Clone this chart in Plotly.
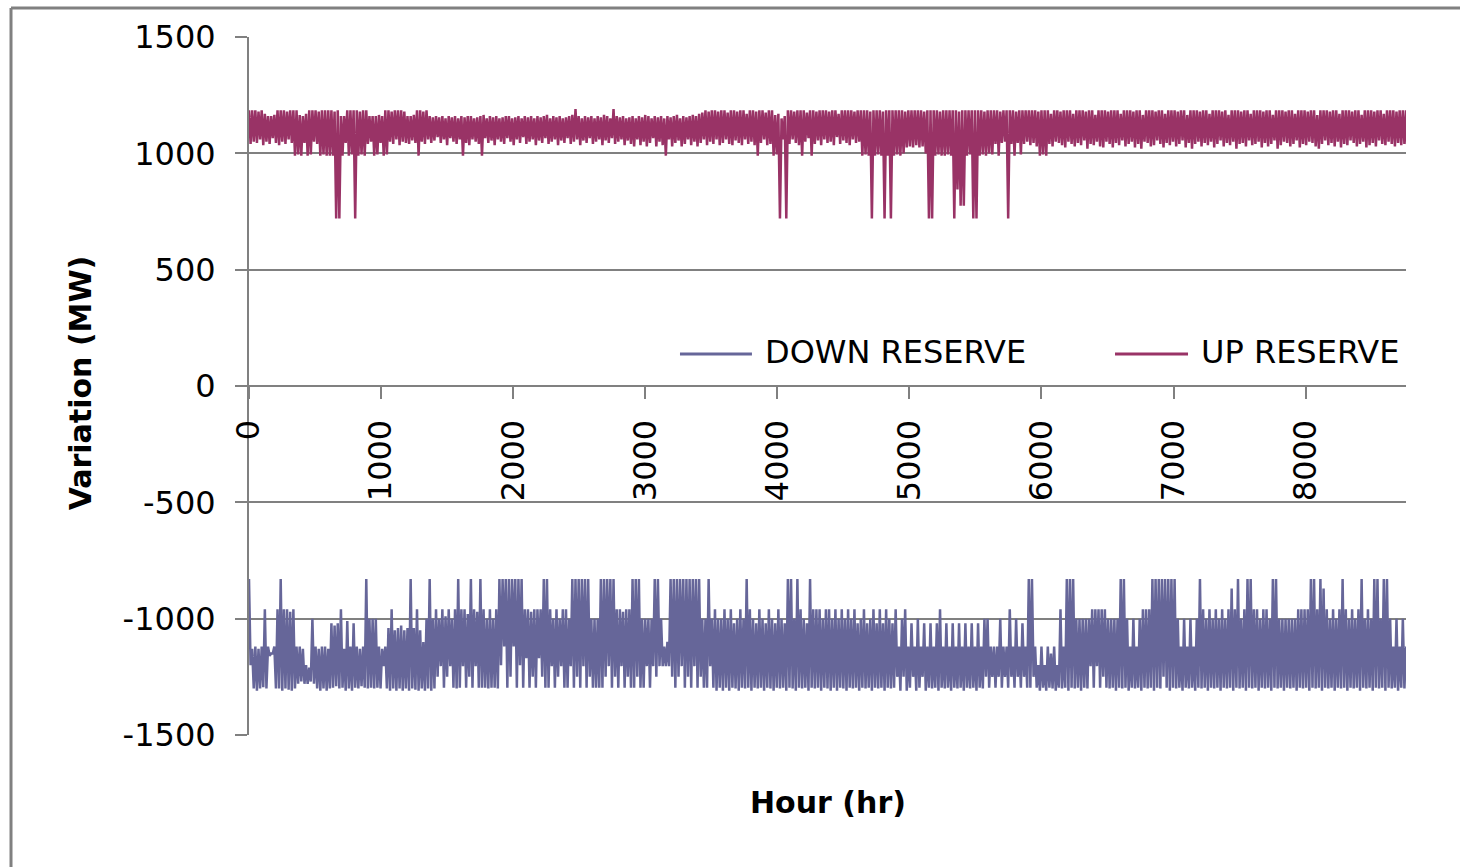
import plotly.graph_objects as go

# Day starts on the hourly axis (0 .. 8760 hr)
hours = list(range(0, 8761, 24))

# Up reserve (MW): daily high and daily low readings
up_high = [
    1185, 1185, 1185, 1180, 1185, 1170, 1160, 1160, 1165, 1185,
    1185, 1185, 1180, 1185, 1185, 1185, 1165, 1160, 1170, 1185,
    1185, 1185, 1180, 1185, 1185, 1185, 1185, 1180, 1185, 1160,
    1160, 1185, 1185, 1185, 1185, 1180, 1185, 1185, 1160, 1160,
    1160, 1165, 1160, 1185, 1185, 1180, 1185, 1185, 1185, 1180,
    1160, 1160, 1165, 1185, 1185, 1180, 1185, 1160, 1155, 1160,
    1155, 1160, 1150, 1160, 1155, 1160, 1150, 1160, 1155, 1160,
    1160, 1150, 1155, 1160, 1165, 1150, 1160, 1155, 1160, 1150,
    1155, 1160, 1160, 1150, 1155, 1160, 1150, 1160, 1155, 1160,
    1150, 1160, 1155, 1160, 1165, 1150, 1160, 1155, 1160, 1150,
    1155, 1160, 1165, 1190, 1160, 1150, 1160, 1155, 1160, 1150,
    1160, 1155, 1165, 1160, 1150, 1190, 1160, 1155, 1160, 1150,
    1155, 1160, 1150, 1160, 1155, 1165, 1160, 1150, 1160, 1155,
    1160, 1150, 1160, 1155, 1160, 1165, 1150, 1160, 1155, 1160,
    1165, 1160, 1170, 1175, 1185, 1180, 1185, 1185, 1180, 1185,
    1185, 1175, 1185, 1185, 1180, 1185, 1185, 1170, 1185, 1185,
    1180, 1185, 1185, 1175, 1185, 1185, 1165, 1170, 1150, 1160,
    1185, 1185, 1180, 1185, 1185, 1185, 1175, 1185, 1185, 1180,
    1185, 1185, 1185, 1180, 1185, 1185, 1170, 1185, 1185, 1185,
    1185, 1180, 1185, 1185, 1185, 1185, 1180, 1185, 1185, 1185,
    1180, 1185, 1185, 1185, 1185, 1185, 1185, 1180, 1185, 1185,
    1185, 1185, 1185, 1180, 1185, 1185, 1185, 1185, 1180, 1185,
    1185, 1185, 1185, 1185, 1180, 1185, 1185, 1185, 1185, 1185,
    1185, 1185, 1180, 1185, 1185, 1185, 1185, 1180, 1185, 1185,
    1185, 1185, 1180, 1185, 1185, 1185, 1185, 1185, 1185, 1180,
    1185, 1185, 1185, 1170, 1185, 1185, 1180, 1185, 1185, 1185,
    1170, 1185, 1185, 1185, 1180, 1185, 1185, 1165, 1185, 1185,
    1185, 1180, 1185, 1185, 1185, 1170, 1185, 1185, 1185, 1180,
    1185, 1185, 1165, 1185, 1185, 1185, 1180, 1185, 1185, 1170,
    1185, 1185, 1185, 1180, 1185, 1185, 1165, 1185, 1185, 1185,
    1180, 1185, 1185, 1170, 1185, 1185, 1185, 1180, 1185, 1165,
    1185, 1185, 1185, 1180, 1185, 1185, 1170, 1185, 1185, 1185,
    1180, 1185, 1185, 1165, 1185, 1185, 1185, 1180, 1185, 1185,
    1170, 1185, 1185, 1185, 1180, 1185, 1185, 1165, 1185, 1185,
    1185, 1180, 1185, 1185, 1170, 1185, 1185, 1185, 1180, 1185,
    1185, 1165, 1185, 1185, 1185, 1180, 1185, 1185, 1170, 1185,
    1185, 1185, 1180, 1185, 1185, 1185,
]
up_low = [
    1040, 1050, 1045, 1060, 1035, 1050, 1040, 1065, 1045, 1035,
    1050, 1040, 1060, 1045, 990, 995, 990, 1045, 990, 995,
    1050, 1040, 990, 995, 990, 990, 990, 720, 720, 990,
    1045, 990, 995, 720, 990, 995, 990, 1040, 1050, 990,
    995, 1045, 990, 995, 1050, 1040, 1060, 1035, 1050, 1045,
    1040, 1055, 1045, 990, 1050, 1040, 1060, 1045, 1055, 1070,
    1045, 1060, 1035, 1065, 1050, 1040, 1060, 990, 1045, 1035,
    1060, 1050, 1040, 990, 1065, 1045, 1055, 1035, 1060, 1050,
    1040, 1065, 1050, 1035, 1060, 1045, 1070, 1040, 1050, 1060,
    1035, 1055, 1045, 1065, 1040, 1050, 1060, 1035, 1055, 1045,
    1065, 1040, 1050, 1060, 1035, 1055, 1045, 1065, 1040, 1050,
    1060, 1035, 1055, 1045, 1065, 1040, 1050, 1060, 1035, 1055,
    1040, 1030, 1060, 1035, 1050, 1030, 1045, 1065, 1030, 1050,
    1035, 990, 1060, 1030, 1045, 1055, 1030, 1040, 1060, 1035,
    1050, 1030, 1045, 1060, 1035, 1050, 1040, 1060, 1035, 1045,
    1060, 1040, 1035, 1055, 1045, 1035, 1060, 1040, 1050, 1035,
    990, 1045, 1060, 1035, 1040, 990, 995, 720, 1060, 720,
    1040, 1060, 1045, 1035, 990, 1050, 1065, 990, 1040, 1055,
    1035, 1060, 1045, 1050, 1035, 1070, 1040, 1055, 1045, 1035,
    1060, 1045, 1050, 990, 995, 990, 720, 990, 995, 990,
    720, 990, 720, 990, 995, 990, 1000, 1025, 1030, 1025,
    1035, 1025, 1030, 1000, 720, 720, 990, 995, 990, 990,
    995, 990, 720, 845, 775, 775, 990, 995, 720, 720,
    990, 995, 990, 1000, 995, 1040, 990, 1045, 1050, 720,
    1040, 990, 1045, 995, 1040, 1050, 1035, 1045, 1030, 990,
    995, 990, 1040, 1030, 1050, 1045, 1035, 1025, 1050, 1040,
    1030, 1045, 1035, 1055, 1020, 1040, 1035, 1050, 1030, 1025,
    1050, 1040, 1025, 1045, 1035, 1055, 1030, 1040, 1050, 1025,
    1040, 1020, 1050, 1045, 1030, 1035, 1055, 1040, 1025, 1045,
    1035, 1050, 1030, 1040, 1055, 1025, 1045, 1020, 1040, 1050,
    1030, 1045, 1035, 1050, 1025, 1040, 1055, 1030, 1045, 1035,
    1050, 1020, 1040, 1045, 1030, 1055, 1035, 1040, 1050, 1025,
    1045, 1030, 1040, 1055, 1020, 1035, 1050, 1045, 1030, 1040,
    1055, 1025, 1040, 1035, 1050, 1045, 1030, 1020, 1040, 1055,
    1035, 1045, 1030, 1050, 1025, 1040, 1035, 1055, 1045, 1030,
    1040, 1050, 1025, 1035, 1045, 1030, 1055, 1040, 1035, 1050,
    1040, 1030, 1045, 1035, 1040, 990,
]

# Down reserve (MW): daily upper and daily lower readings
down_high = [
    -830, -1130, -1120, -1130, -1120, -960, -1120, -1150, -1120, -960,
    -830, -960, -960, -970, -960, -1120, -1120, -1130, -1200, -1210,
    -1000, -1120, -1130, -1120, -1120, -1130, -1020, -1030, -1020, -960,
    -1130, -1010, -1120, -1020, -1120, -1130, -1120, -830, -1000, -1000,
    -1000, -1120, -1130, -1120, -1040, -960, -1050, -1040, -1030, -1050,
    -1040, -830, -1040, -960, -1050, -1100, -1000, -830, -1000, -960,
    -1000, -960, -990, -960, -1000, -960, -830, -960, -960, -980,
    -830, -960, -970, -830, -960, -1000, -960, -1000, -960, -830,
    -830, -830, -830, -830, -830, -830, -830, -960, -960, -970,
    -960, -960, -960, -830, -830, -960, -1000, -960, -1000, -960,
    -960, -1000, -830, -830, -830, -830, -830, -830, -1000, -1000,
    -1000, -830, -830, -830, -830, -830, -960, -960, -970, -960,
    -960, -830, -830, -830, -1000, -1000, -1000, -1000, -830, -830,
    -1000, -1120, -1100, -830, -830, -830, -830, -830, -830, -830,
    -830, -830, -830, -1000, -1000, -830, -1000, -960, -1000, -1000,
    -960, -1000, -960, -1020, -1000, -960, -1000, -830, -960, -1000,
    -1020, -960, -1000, -1020, -960, -1000, -1020, -960, -1000, -1020,
    -830, -830, -1000, -830, -960, -1000, -1020, -830, -960, -960,
    -960, -1000, -960, -960, -1000, -960, -1000, -960, -1000, -960,
    -1000, -960, -1020, -1000, -960, -1020, -1000, -960, -1020, -960,
    -1020, -960, -1000, -1020, -960, -1120, -1000, -960, -1120, -1020,
    -1120, -1000, -1120, -1020, -1120, -1020, -1120, -1020, -960, -1120,
    -1020, -1120, -1020, -1120, -1020, -1120, -1020, -1120, -1020, -1120,
    -1020, -1120, -1000, -1000, -1120, -1120, -1120, -1000, -1120, -1120,
    -960, -1120, -1000, -1120, -1020, -1120, -830, -830, -1120, -1200,
    -1120, -1200, -1120, -1150, -1120, -1200, -960, -1120, -830, -830,
    -830, -1000, -1000, -1000, -1000, -1000, -960, -960, -960, -960,
    -960, -1000, -1000, -1000, -1000, -830, -830, -1000, -1120, -1000,
    -1120, -1000, -960, -960, -960, -830, -830, -830, -830, -830,
    -830, -830, -830, -1000, -1120, -1000, -1120, -1000, -1120, -1000,
    -830, -960, -1000, -960, -1000, -960, -1000, -960, -1000, -960,
    -870, -960, -830, -1000, -960, -830, -830, -960, -960, -1000,
    -960, -960, -1000, -830, -830, -1000, -1000, -1000, -1000, -1000,
    -1000, -960, -960, -960, -960, -830, -830, -960, -830, -870,
    -960, -1000, -960, -1000, -960, -830, -960, -1000, -960, -1000,
    -960, -830, -1000, -960, -1000, -830, -830, -1000, -830, -830,
    -1000, -1120, -1000, -1120, -1000, -1120,
]
down_low = [
    -1200, -1300, -1310, -1300, -1295, -1300, -1160, -1150, -1300, -1300,
    -1310, -1300, -1305, -1310, -1300, -1280, -1270, -1280, -1280, -1270,
    -1280, -1300, -1310, -1300, -1310, -1300, -1297, -1290, -1300, -1297,
    -1310, -1300, -1310, -1297, -1300, -1290, -1297, -1300, -1297, -1300,
    -1297, -1300, -1204, -1300, -1310, -1300, -1310, -1300, -1310, -1300,
    -1310, -1300, -1305, -1310, -1300, -1310, -1300, -1310, -1300, -1250,
    -1204, -1297, -1250, -1204, -1297, -1300, -1297, -1204, -1297, -1250,
    -1297, -1204, -1297, -1297, -1297, -1300, -1297, -1297, -1300, -1200,
    -1120, -1297, -1250, -1120, -1297, -1200, -1297, -1170, -1297, -1250,
    -1297, -1170, -1250, -1297, -1297, -1204, -1297, -1250, -1204, -1297,
    -1297, -1204, -1297, -1250, -1297, -1204, -1297, -1250, -1297, -1297,
    -1297, -1297, -1250, -1204, -1297, -1250, -1297, -1204, -1297, -1250,
    -1297, -1297, -1250, -1297, -1297, -1204, -1297, -1204, -1250, -1204,
    -1204, -1204, -1204, -1250, -1297, -1250, -1204, -1297, -1250, -1297,
    -1204, -1297, -1250, -1297, -1297, -1204, -1297, -1310, -1297, -1310,
    -1297, -1310, -1297, -1300, -1310, -1297, -1300, -1297, -1310, -1297,
    -1300, -1297, -1310, -1297, -1300, -1310, -1297, -1300, -1297, -1310,
    -1297, -1300, -1310, -1297, -1300, -1297, -1310, -1297, -1300, -1297,
    -1310, -1297, -1300, -1310, -1297, -1310, -1297, -1300, -1310, -1297,
    -1300, -1297, -1310, -1297, -1300, -1297, -1310, -1297, -1300, -1297,
    -1310, -1297, -1300, -1297, -1250, -1310, -1250, -1310, -1297, -1250,
    -1310, -1297, -1250, -1310, -1297, -1300, -1297, -1310, -1297, -1300,
    -1297, -1310, -1297, -1300, -1297, -1310, -1297, -1300, -1297, -1310,
    -1297, -1300, -1250, -1297, -1250, -1297, -1250, -1297, -1250, -1297,
    -1250, -1297, -1250, -1297, -1250, -1297, -1297, -1250, -1297, -1310,
    -1297, -1310, -1297, -1300, -1310, -1297, -1300, -1297, -1310, -1297,
    -1300, -1297, -1310, -1297, -1300, -1204, -1297, -1204, -1297, -1250,
    -1297, -1300, -1297, -1310, -1297, -1300, -1297, -1310, -1297, -1300,
    -1297, -1310, -1297, -1300, -1297, -1310, -1297, -1300, -1250, -1297,
    -1310, -1297, -1300, -1297, -1310, -1297, -1300, -1297, -1310, -1297,
    -1300, -1297, -1310, -1297, -1300, -1297, -1310, -1297, -1300, -1297,
    -1310, -1297, -1300, -1297, -1310, -1297, -1300, -1297, -1310, -1297,
    -1300, -1297, -1310, -1297, -1300, -1297, -1310, -1297, -1300, -1297,
    -1310, -1297, -1300, -1297, -1310, -1297, -1300, -1297, -1310, -1297,
    -1300, -1297, -1310, -1297, -1300, -1297, -1310, -1297, -1300, -1297,
    -1310, -1297, -1300, -1297, -1310, -1297, -1300, -1297, -1310, -1297,
    -1300, -1297, -1310, -1297, -1300, -1297,
]

x_ticks = [0, 1000, 2000, 3000, 4000, 5000, 6000, 7000, 8000]
y_ticks = [-1500, -1000, -500, 0, 500, 1000, 1500]

DOWN_COLOR = "#666699"
UP_COLOR = "#993366"
GRID = "#808080"
FONT = "DejaVu Sans"


def day_series(highs, lows):
    """Interleave each day's high (at day start) and low (half a day later)."""
    xs, ys = [], []
    for h, hi, lo in zip(hours, highs, lows):
        xs += [h, h + 12]
        ys += [hi, lo]
    return xs, ys


fig = go.Figure()
dx, dy = day_series(down_high, down_low)
fig.add_trace(go.Scatter(
    x=dx, y=dy, name="DOWN RESERVE", mode="lines",
    line=dict(color=DOWN_COLOR, width=2.5, simplify=False),
))
ux, uy = day_series(up_high, up_low)
fig.add_trace(go.Scatter(
    x=ux, y=uy, name="UP RESERVE", mode="lines",
    line=dict(color=UP_COLOR, width=2.5, simplify=False),
))

# Legend drawn as line samples with text labels inside the plot
legend_items = [("DOWN RESERVE", DOWN_COLOR, 0.3725, 0.4347, 0.4443),
                ("UP RESERVE", UP_COLOR, 0.7485, 0.8116, 0.8211)]
shapes = []
annotations = []
for label, color, x0, x1, xt in legend_items:
    shapes.append(dict(type="line", xref="paper", yref="paper",
                       x0=x0, x1=x1, y0=0.546, y1=0.546,
                       line=dict(color=color, width=3)))
    annotations.append(dict(text=label, xref="paper", yref="paper",
                            x=xt, y=0.548, xanchor="left", yanchor="middle",
                            showarrow=False,
                            font=dict(family=FONT, size=32, color="black")))

# Chart-area frame (top and left edges)
shapes.append(dict(type="line", xref="paper", yref="paper",
                   x0=-0.2057, x1=1.05, y0=1.0415, y1=1.0415,
                   line=dict(color=GRID, width=3)))
shapes.append(dict(type="line", xref="paper", yref="paper",
                   x0=-0.2057, x1=-0.2057, y0=1.0415, y1=-0.2,
                   line=dict(color=GRID, width=3)))

# Axis titles
annotations.append(dict(text="<b>Hour (hr)</b>", xref="paper", yref="paper",
                        x=0.5004, y=-0.0974, xanchor="center", yanchor="middle",
                        showarrow=False,
                        font=dict(family=FONT, size=30, color="black")))
annotations.append(dict(text="<b>Variation (MW)</b>", xref="paper", yref="paper",
                        x=-0.146, y=0.504, xanchor="center", yanchor="middle",
                        textangle=-90, showarrow=False,
                        font=dict(family=FONT, size=30, color="black")))

fig.update_layout(
    width=1460, height=867,
    margin=dict(l=249, r=54, t=37, b=132),
    paper_bgcolor="white", plot_bgcolor="white",
    showlegend=False,
    shapes=shapes, annotations=annotations,
    font=dict(family=FONT, size=32, color="black"),
)
fig.update_xaxes(
    range=[0, 8760], tickvals=x_ticks, ticktext=[str(v) for v in x_ticks],
    anchor="free", position=0.5,
    showgrid=False, zeroline=False,
    showline=True, linecolor=GRID, linewidth=2,
    ticks="outside", ticklen=12, tickwidth=2, tickcolor=GRID,
    tickangle=-90, ticklabelstandoff=8,
    tickfont=dict(family=FONT, size=32, color="black"),
)
fig.update_yaxes(
    range=[-1500, 1500], tickvals=y_ticks, ticktext=[str(v) for v in y_ticks],
    showgrid=True, gridcolor=GRID, gridwidth=2, zeroline=False,
    showline=True, linecolor=GRID, linewidth=2,
    ticks="outside", ticklen=12, tickwidth=2, tickcolor=GRID,
    ticklabelstandoff=13,
    tickfont=dict(family=FONT, size=32, color="black"),
)

fig.write_html("out.html")
